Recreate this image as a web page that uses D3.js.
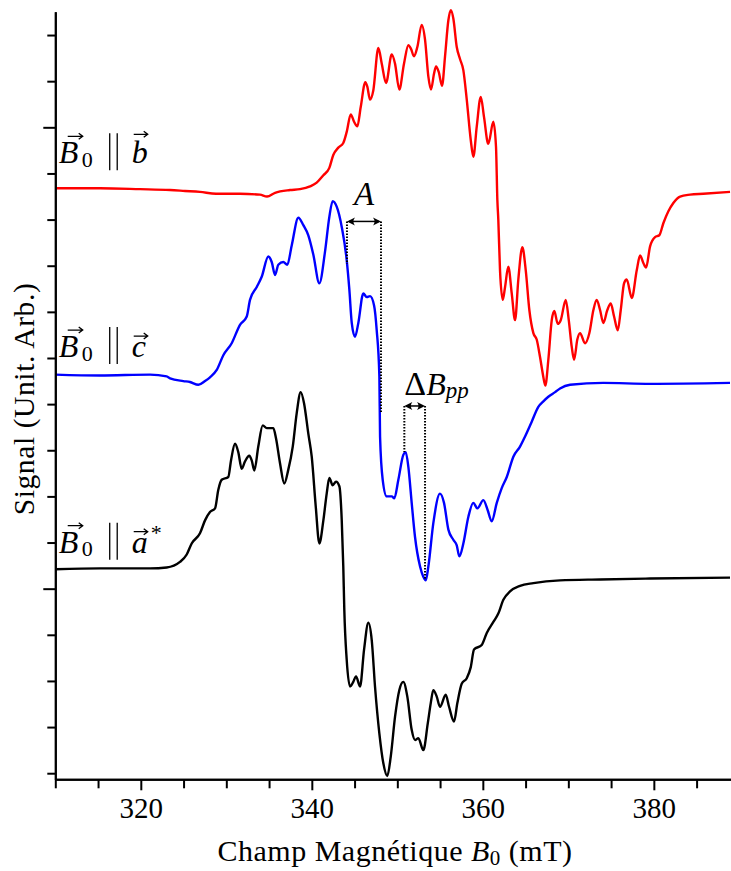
<!DOCTYPE html>
<html><head><meta charset="utf-8">
<script src="https://cdn.jsdelivr.net/npm/d3@7"></script>
<style>
body{margin:0;background:#fff}
svg{display:block}
text{font-family:"Liberation Serif","Times New Roman",serif;fill:#000}
</style>
</head><body>
<svg id="chart" width="731" height="871"></svg>
<script>
// ---------- data (field in mT, signal in arbitrary units) ----------
const seriesNames = ["b", "c", "a*"];
const seriesColors = ["#ff0000", "#0000ff", "#000000"];

const redField = [310.00,315.23,319.91,323.42,325.17,326.92,328.80,331.60,333.94,334.76,
335.70,337.45,338.62,339.79,340.57,341.35,342.05,342.51,343.10,343.68,
344.08,344.55,344.94,345.32,345.72,346.26,346.49,346.81,347.19,347.78,
348.18,348.68,349.35,349.73,350.23,350.78,351.29,351.60,351.95,352.34,
352.85,353.24,353.63,353.94,354.29,354.53,354.84,355.23,355.58,355.97,
356.25,356.55,356.95,357.33,357.72,358.12,358.59,358.89,359.29,359.76,
360.14,360.64,361.23,361.54,361.70,361.81,362.01,362.33,362.60,362.98,
363.38,363.77,364.15,364.62,365.02,365.44,365.91,366.30,366.69,367.01,
367.31,367.66,368.06,368.36,368.76,369.11,369.70,370.05,370.40,370.67,
371.05,371.37,371.95,372.46,372.93,373.32,373.71,374.09,374.56,374.96,
375.35,375.78,376.13,376.52,376.83,377.42,378.00,378.39,378.77,379.09,
379.56,380.14,380.64,381.11,381.70,382.28,383.07,384.24,385.79,388.91];
const redSignal = [434,434,433,432,431,430,428,428,427,425,
429,432,433,436,440,448,456,470,478,483,
495,514,506,501,522,549,544,530,540,586,
569,548,579,569,541,569,589,585,577,587,
611,595,555,541,558,566,560,545,577,616,
627,618,587,574,562,530,486,468,501,533,
511,482,506,479,421,400,345,313,327,349,
320,291,335,370,345,302,277,270,251,233,
220,248,291,301,287,291,313,291,262,248,
270,277,266,277,302,313,302,288,302,309,
295,280,302,331,335,315,345,361,353,348,
371,381,383,396,409,418,425,427,428,430];

const blueField = [310.00,315.23,321.08,323.03,323.42,324.97,325.75,326.73,327.51,328.09,
328.88,329.65,330.63,331.60,332.39,332.77,333.56,334.14,334.91,335.31,
335.70,336.08,336.67,337.13,337.65,338.42,339.01,339.59,340.18,340.88,
341.54,342.05,342.44,342.91,343.50,344.08,344.39,344.67,345.05,345.44,
346.02,346.42,346.81,347.28,347.59,347.90,347.98,348.29,348.76,349.35,
349.65,350.12,350.70,350.98,351.29,351.68,352.07,352.66,353.04,353.32,
353.63,354.21,354.99,355.46,355.97,356.55,356.95,357.25,357.72,358.31,
358.89,359.36,360.06,360.57,361.04,361.63,362.21,362.80,363.57,364.35,
364.94,365.72,366.49,367.08,367.66,368.45,369.03,370.20,374.09,379.56,388.91];
const blueSignal = [232,231,232,230,228,225,224,221,225,229,
237,253,266,286,295,313,327,338,360,354,
340,351,354,351,372,402,394,383,362,331,
365,403,420,414,392,356,324,288,273,288,
320,316,317,307,280,230,165,118,100,100,
98,118,145,148,132,93,56,24,13,9,
24,71,103,93,64,53,47,35,49,78,
93,87,96,85,73,93,109,121,143,154,
165,181,197,203,208,213,217,221,223,222,223];

const blackField = [310.00,315.23,321.08,323.03,324.58,325.37,325.95,326.92,327.51,328.09,
328.68,329.06,329.46,330.23,330.55,331.02,331.40,331.80,332.19,332.69,
332.97,333.28,333.74,334.26,334.73,335.50,335.81,336.28,336.78,337.25,
337.77,338.23,338.70,339.09,339.59,339.99,340.46,340.88,341.35,341.74,
342.05,342.44,342.83,343.22,343.50,343.68,343.80,344.08,344.47,344.85,
345.17,345.64,346.11,346.61,347.01,347.39,347.90,348.36,348.83,349.23,
349.73,350.23,350.70,351.17,351.68,352.07,352.46,353.04,353.56,353.91,
354.21,354.61,354.99,355.66,356.05,356.63,357.02,357.53,358.12,358.59,
358.97,359.87,360.46,361.23,361.81,362.40,363.18,364.35,365.91,369.03,373.71,379.56,388.91];
const blackSignal = [21,22,22,23,29,37,49,60,74,83,
87,107,118,121,139,157,148,130,138,144,
139,128,154,177,174,174,163,136,114,129,
154,190,213,201,168,143,89,49,74,103,
120,112,116,111,74,24,-23,-77,-106,-101,
-95,-106,-66,-37,-56,-106,-157,-189,-203,-182,
-139,-110,-101,-117,-153,-164,-162,-175,-146,-124,
-110,-117,-128,-115,-128,-144,-124,-103,-97,-85,
-66,-61,-48,-36,-27,-12,-3,3,6,9,10,11,12];

// label anchor values (field, signal) for each trace label
const labelField = [310.4, 310.4, 310.4];
const labelSignal = [461, 251, 39];

// axis ticks
const xMajorTicks = [320, 340, 360, 380];
const xMinorTicks = [310, 315, 325, 330, 335, 345, 350, 355, 365, 370, 375, 385];
const yMajorTicks = [0, 500];
const yMinorTicks = [-200, -150, -100, -50, 50, 100, 150, 200, 250, 300, 350, 400, 450, 550, 600];
const xDomain = [310, 389];
const yDomain = [-206.6, 625.3];

// annotations: hyperfine splitting A and peak-to-peak width
const annotA = {from: 344.11, to: 348.09, level: 398, endFrom: 352, endTo: 190, textSignal: 416};
const annotDB = {from: 350.82, to: 353.24, level: 198, endFrom: 148, endTo: 11, textSignal: 210};

// ---------- drawing ----------
const W = 731, H = 871;
const m = {left: 55.3, right: 0.2, top: 11.7, bottom: 91.7};
const SERIF = "Liberation Serif";
const svg = d3.select("#chart");
const x = d3.scaleLinear().domain(xDomain).range([m.left, W - m.right]);
const y = d3.scaleLinear().domain(yDomain).range([H - m.bottom, m.top]);

// traces
const traces = [
  d3.zip(redField, redSignal),
  d3.zip(blueField, blueSignal),
  d3.zip(blackField, blackSignal)
];
const line = d3.line().x(d => x(d[0])).y(d => y(d[1])).curve(d3.curveMonotoneX);
traces.forEach((t, i) => {
  svg.append("path").datum(t).attr("d", line)
    .attr("fill", "none").attr("stroke", seriesColors[i])
    .attr("stroke-width", 2.4).attr("stroke-linejoin", "round");
});

// axes
const gx = svg.append("g").attr("transform", `translate(0,${H - m.bottom})`);
gx.append("g").call(d3.axisBottom(x).tickValues(xMinorTicks).tickSize(9).tickSizeOuter(0).tickFormat(""));
gx.append("g").call(d3.axisBottom(x).tickValues(xMajorTicks).tickSize(11).tickSizeOuter(0).tickFormat(d3.format("d")));
const gy = svg.append("g").attr("transform", `translate(${m.left},0)`);
gy.append("g").call(d3.axisLeft(y).tickValues(yMinorTicks).tickSize(8).tickSizeOuter(0).tickFormat(""));
gy.append("g").call(d3.axisLeft(y).tickValues(yMajorTicks).tickSize(12).tickSizeOuter(0).tickFormat(""));
svg.selectAll(".domain, .tick line").attr("stroke", "#000").attr("stroke-width", 2);
gx.selectAll(".tick text").attr("y", 38.7).attr("dy", null)
  .attr("font-size", 29).attr("font-family", SERIF).attr("fill", "#000");

// axis titles
const xt = svg.append("text").attr("x", 395).attr("y", 861).attr("text-anchor", "middle")
  .attr("font-family", SERIF).attr("font-size", 30).attr("letter-spacing", 0.5);
xt.append("tspan").text("Champ Magnétique ");
xt.append("tspan").attr("font-style", "italic").text("B");
xt.append("tspan").attr("font-size", 21).attr("dy", 4).text("0");
xt.append("tspan").attr("dy", -4).text(" (mT)");
svg.append("text").attr("transform", "translate(33.5,399) rotate(-90)")
  .attr("text-anchor", "middle").attr("font-family", SERIF).attr("font-size", 29.5).attr("letter-spacing", 0.6)
  .text("Signal (Unit. Arb.)");

// vector arrow helper
function vecArrow(g, x1, x2, yy) {
  g.append("path").attr("d", `M${x1},${yy}H${x2}M${x2 - 4},${yy - 3}L${x2},${yy}L${x2 - 4},${yy + 3}`)
    .attr("fill", "none").attr("stroke", "#000").attr("stroke-width", 1.3);
}

// trace labels
seriesNames.forEach((name, i) => {
  const letter = name[0];
  const g = svg.append("g").attr("transform", `translate(${x(labelField[i])},${y(labelSignal[i])})`)
    .attr("font-family", SERIF);
  g.append("text").attr("font-style", "italic").attr("font-size", 32).text("B");
  vecArrow(g, 9, 24, -27);
  g.append("text").attr("x", 23).attr("y", 3.6).attr("font-size", 22).text("0");
  [51, 58.5].forEach(px => g.append("line").attr("x1", px).attr("x2", px).attr("y1", -30).attr("y2", 7)
    .attr("stroke", "#000").attr("stroke-width", 1.3));
  g.append("text").attr("x", 73).attr("font-style", "italic").attr("font-size", 32).text(letter);
  vecArrow(g, 75, 89, letter === "b" ? -29 : -21);
  if (name.length > 1) g.append("text").attr("x", 92).attr("y", -13).attr("font-size", 22).text("*");
});

// dimension annotations
function dimArrow(a) {
  const x1 = x(a.from), x2 = x(a.to), yy = y(a.level);
  svg.append("line").attr("x1", x1).attr("x2", x1).attr("y1", yy).attr("y2", y(a.endFrom))
    .attr("stroke", "#000").attr("stroke-width", 2).attr("stroke-dasharray", "1.6,1.4");
  svg.append("line").attr("x1", x2).attr("x2", x2).attr("y1", yy).attr("y2", y(a.endTo))
    .attr("stroke", "#000").attr("stroke-width", 2).attr("stroke-dasharray", "1.6,1.4");
  svg.append("line").attr("x1", x1 + 2).attr("x2", x2 - 2).attr("y1", yy).attr("y2", yy)
    .attr("stroke", "#000").attr("stroke-width", 1.5);
  const head = (tip, dir) => `M${tip},${yy}L${tip + dir * 8},${yy - 4}Q${tip + dir * 5},${yy} ${tip + dir * 8},${yy + 4}Z`;
  svg.append("path").attr("d", head(x1, 1)).attr("fill", "#000");
  svg.append("path").attr("d", head(x2, -1)).attr("fill", "#000");
}
dimArrow(annotA);
dimArrow(annotDB);

svg.append("text").attr("x", x((annotA.from + annotA.to) / 2)).attr("y", y(annotA.textSignal))
  .attr("text-anchor", "middle").attr("font-family", SERIF).attr("font-style", "italic").attr("font-size", 33).text("A");
const dt = svg.append("text").attr("x", x(annotDB.from)).attr("y", y(annotDB.textSignal))
  .attr("font-family", SERIF).attr("font-size", 32);
dt.append("tspan").attr("font-size", 34).text("Δ");
dt.append("tspan").attr("font-style", "italic").text("B");
dt.append("tspan").attr("font-style", "italic").attr("font-size", 23).attr("dy", 3).text("pp");
</script>
</body></html>
